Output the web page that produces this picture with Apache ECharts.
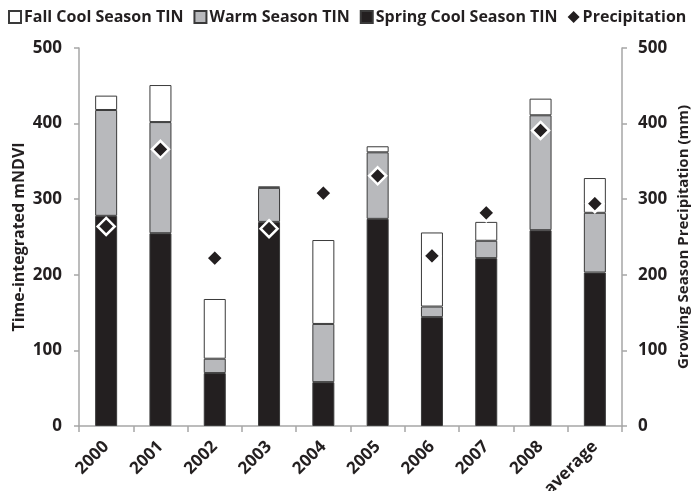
<!DOCTYPE html>
<html>
<head>
<meta charset="utf-8">
<script src="https://cdn.jsdelivr.net/npm/echarts@6/dist/echarts.min.js"></script>
<style>
html, body { margin: 0; padding: 0; background: #fff; }
#chart { width: 694px; height: 491px; }
</style>
</head>
<body>
<div id="chart"></div>
<script>
// values
const years = ['2000', '2001', '2002', '2003', '2004', '2005', '2006', '2007', '2008', 'average'];
const springTin = [278, 255, 70, 270, 58, 274, 144, 222, 259, 203];
const warmTin = [140, 147, 19, 45, 77, 88, 14, 23, 152, 79];
const fallTin = [19, 49, 79, 2, 111, 8, 98, 25, 22, 46];
const precipitation = [264, 366, 222, 261, 308, 331, 225, 282, 391, 294];
const yTicks = [0, 100, 200, 300, 400, 500];

const fontFamily = '"Open Sans", "Noto Sans", sans-serif';
const axisGray = '#a6a6a6';
const barEdge = '#3a3a3a';

const chart = echarts.init(document.getElementById('chart'));

const valueAxis = (name, position) => ({
  type: 'value',
  position,
  min: yTicks[0],
  max: yTicks[yTicks.length - 1],
  interval: 100,
  name,
  nameLocation: 'middle',
  nameRotate: 90,
  nameMoveOverlap: false,
  nameGap: position === 'left' ? 52 : 54,
  nameTextStyle: {
    fontFamily,
    fontWeight: 'bold',
    fontSize: position === 'left' ? 16 : 15,
    color: '#231f20'
  },
  axisLine: { show: true, lineStyle: { color: axisGray, width: 1.5 } },
  axisTick: { show: true, inside: false, length: 5, lineStyle: { color: axisGray, width: 1.5 } },
  axisLabel: { fontFamily, fontWeight: 'bold', fontSize: 17, color: '#231f20', margin: position === 'left' ? 17 : 16 },
  splitLine: { show: false }
});

const option = {
  animation: false,
  backgroundColor: '#fff',
  textStyle: { fontFamily },
  legend: {
    top: 4,
    left: 3,
    itemWidth: 12,
    itemHeight: 12,
    itemGap: 10,
    textStyle: { fontFamily, fontWeight: 'bold', fontSize: 16, color: '#231f20', padding: [0, 0, 0, -2] },
    data: [
      { name: 'Fall Cool Season TIN', icon: 'rect' },
      { name: 'Warm Season TIN', icon: 'rect' },
      { name: 'Spring Cool Season TIN', icon: 'rect' },
      { name: 'Precipitation', icon: 'diamond', itemStyle: { borderWidth: 0 } }
    ]
  },
  grid: { left: 79, right: 72, top: 48, bottom: 65, outerBoundsMode: 'none', containLabel: false },
  xAxis: {
    type: 'category',
    data: years,
    axisLine: { lineStyle: { color: axisGray, width: 1.5 } },
    axisTick: { show: true, alignWithLabel: false, length: 6, lineStyle: { color: axisGray, width: 1.5 } },
    axisLabel: {
      rotate: 45,
      interval: 0,
      margin: 18,
      fontFamily,
      fontWeight: 'bold',
      fontSize: 17,
      color: '#231f20'
    }
  },
  yAxis: [
    valueAxis('Time-integrated mNDVI', 'left'),
    valueAxis('Growing Season Precipitation (mm)', 'right')
  ],
  series: [
    {
      name: 'Spring Cool Season TIN',
      type: 'bar',
      stack: 'tin',
      barWidth: 22,
      itemStyle: { color: '#231f20', borderColor: barEdge, borderWidth: 1 },
      data: springTin
    },
    {
      name: 'Warm Season TIN',
      type: 'bar',
      stack: 'tin',
      barWidth: 22,
      itemStyle: { color: '#b8b9bc', borderColor: barEdge, borderWidth: 1 },
      data: warmTin
    },
    {
      name: 'Fall Cool Season TIN',
      type: 'bar',
      stack: 'tin',
      barWidth: 22,
      itemStyle: { color: '#ffffff', borderColor: barEdge, borderWidth: 1 },
      data: fallTin
    },
    {
      name: 'Precipitation',
      type: 'scatter',
      yAxisIndex: 1,
      symbol: 'diamond',
      symbolSize: 17,
      itemStyle: { color: '#231f20', borderColor: '#ffffff', borderWidth: 2.5, opacity: 1 },
      z: 5,
      data: precipitation
    }
  ]
};

chart.setOption(option);
</script>
</body>
</html>
